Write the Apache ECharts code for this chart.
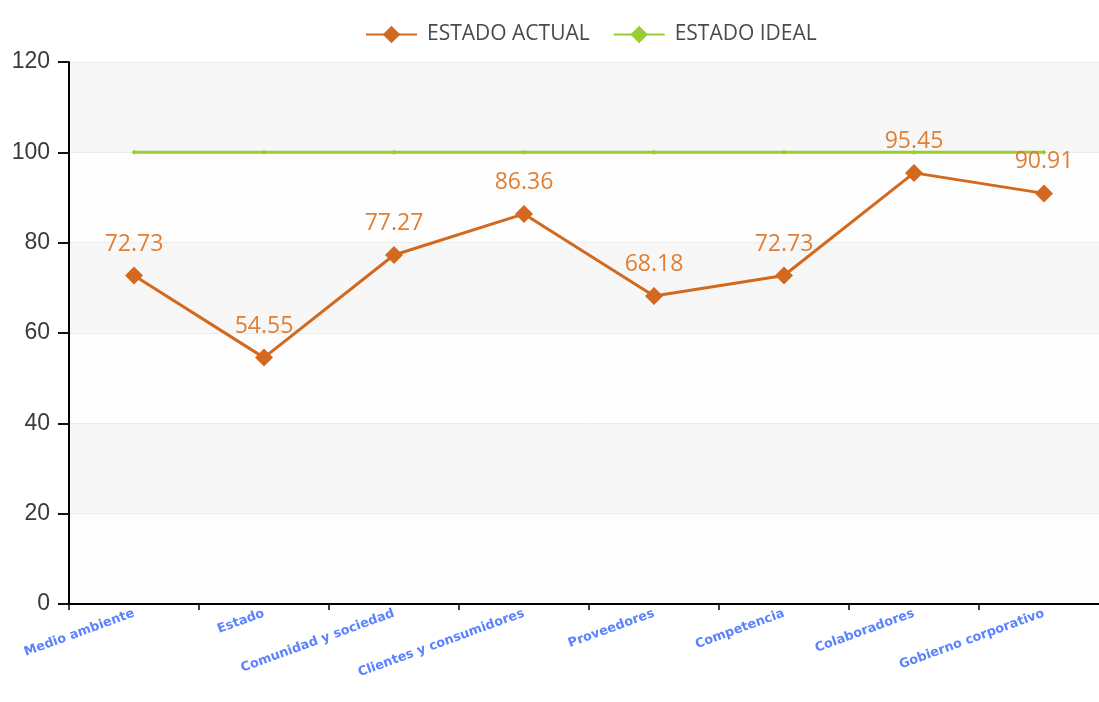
<!DOCTYPE html>
<html>
<head>
<meta charset="utf-8">
<script src="https://cdn.jsdelivr.net/npm/echarts@6/dist/echarts.min.js"></script>
<style>
html,body{margin:0;padding:0;background:#fff;}
#chart{width:1099px;height:702px;}
</style>
</head>
<body>
<div id="chart"></div>
<script>
var categories = ['Medio ambiente','Estado','Comunidad y sociedad','Clientes y consumidores','Proveedores','Competencia','Colaboradores','Gobierno corporativo'];
var actualValues = [72.73, 54.55, 77.27, 86.36, 68.18, 72.73, 95.45, 90.91];
var idealValues = [100, 100, 100, 100, 100, 100, 100, 100];
var seriesNames = ['ESTADO ACTUAL', 'ESTADO IDEAL'];

var chart = echarts.init(document.getElementById('chart'));
chart.setOption({
  backgroundColor: '#ffffff',
  animation: false,
  legend: {
    top: 19,
    left: 360,
    itemWidth: 51,
    itemHeight: 22,
    itemGap: 23,
    textStyle: { fontFamily: 'Open Sans', fontSize: 21, color: '#4a4a4a', padding: [0, 0, 0, 5] },
    data: seriesNames
  },
  grid: { left: 69, width: 1040, top: 62, height: 542, containLabel: false, outerBoundsMode: 'none' },
  xAxis: {
    type: 'category',
    data: categories,
    boundaryGap: true,
    axisLine: { show: true, lineStyle: { color: '#000', width: 2 } },
    axisTick: { show: true, lineStyle: { color: '#000', width: 1.5 }, length: 6 },
    axisLabel: {
      rotate: 20,
      interval: 0,
      color: '#5b82ff',
      fontWeight: 'bold',
      fontSize: 12.8,
      fontFamily: 'DejaVu Sans',
      margin: 9
    }
  },
  yAxis: {
    type: 'value',
    min: 0,
    max: 120,
    interval: 20,
    axisLine: { show: true, lineStyle: { color: '#000', width: 2 } },
    axisTick: { show: true, inside: false, length: 11, lineStyle: { color: '#111', width: 2 } },
    axisLabel: { color: '#3a3a3a', fontSize: 23, fontFamily: 'Liberation Sans', margin: 19 },
    splitLine: { show: true, lineStyle: { color: '#ececec', width: 1 } },
    splitArea: { show: true, areaStyle: { color: ['#fdfdfd', '#f7f7f7'] } }
  },
  series: [
    {
      name: seriesNames[0],
      type: 'line',
      data: actualValues,
      symbol: 'diamond',
      symbolSize: 18,
      z: 3,
      itemStyle: { color: '#d2691e' },
      lineStyle: { color: '#d2691e', width: 3 },
      label: {
        show: true,
        position: 'top',
        distance: 11,
        color: '#e07f35',
        fontSize: 23,
        fontFamily: 'Open Sans'
      }
    },
    {
      name: seriesNames[1],
      type: 'line',
      data: idealValues,
      symbol: 'diamond',
      symbolSize: 5,
      z: 2,
      itemStyle: { color: '#9acd32' },
      lineStyle: { color: '#9acd32', width: 3 }
    }
  ]
});
</script>
</body>
</html>
